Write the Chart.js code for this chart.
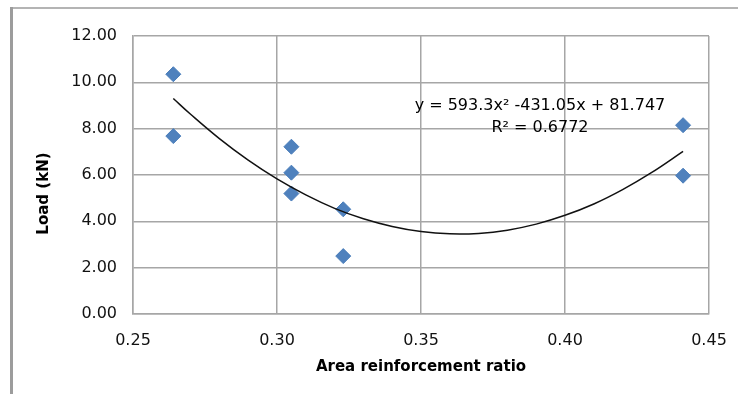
<!DOCTYPE html>
<html>
<head>
<meta charset="utf-8">
<script src="https://cdn.jsdelivr.net/npm/chart.js@4"></script>
<style>
  html, body { margin: 0; padding: 0; background: #fff; }
  #wrap { position: relative; width: 738px; height: 394px; }
</style>
</head>
<body>
<div id="wrap"><canvas id="c" width="738" height="394"></canvas></div>
<script>
// Measured points (area reinforcement ratio, load kN)
const ratioX = [0.264, 0.264, 0.305, 0.305, 0.305, 0.323, 0.323, 0.441, 0.441];
const loadY  = [10.35, 7.68, 7.22, 6.10, 5.20, 4.52, 2.50, 8.15, 5.97];
// Polynomial trendline
const trendX = [0.264, 0.27, 0.28, 0.29, 0.30, 0.31, 0.32, 0.33, 0.34, 0.35, 0.36, 0.37, 0.38, 0.39, 0.40, 0.41, 0.42, 0.43, 0.441];
const trendY = [9.30, 8.62, 7.57, 6.64, 5.83, 5.14, 4.56, 4.11, 3.78, 3.56, 3.46, 3.48, 3.62, 3.88, 4.26, 4.75, 5.37, 6.10, 7.02];
// Axis ranges / labels
const xTicks = [0.25, 0.30, 0.35, 0.40, 0.45];
const yTicks = [0, 2, 4, 6, 8, 10, 12];
const xTitle = 'Area reinforcement ratio';
const yTitle = 'Load (kN)';
const eqLines = ['y = 593.3x² -431.05x + 81.747', 'R² = 0.6772'];

const GRID = '#a6a6a6';
const eqAnchor = { x: 0.3913, y1: 8.79, y2: 7.87 };

const decor = {
  id: 'decor',
  beforeDraw(chart) {
    const ctx = chart.ctx;
    ctx.save();
    ctx.fillStyle = '#fff';
    ctx.fillRect(0, 0, chart.width, chart.height);
    // outer frame (left and top visible)
    ctx.strokeStyle = '#b4b4b4';
    ctx.lineWidth = 2;
    ctx.beginPath(); ctx.moveTo(11, 8); ctx.lineTo(738, 8); ctx.stroke();
    ctx.strokeStyle = '#9c9c9c';
    ctx.lineWidth = 3;
    ctx.beginPath(); ctx.moveTo(11.5, 7); ctx.lineTo(11.5, 394); ctx.stroke();
    ctx.restore();
  },
  afterDraw(chart) {
    const ctx = chart.ctx;
    const a = chart.chartArea;
    const xs = chart.scales.x, ys = chart.scales.y;
    ctx.save();
    ctx.fillStyle = '#000';
    // axis titles
    ctx.font = 'bold 15px "DejaVu Sans"';
    ctx.textAlign = 'center';
    ctx.textBaseline = 'middle';
    ctx.fillText(xTitle, (a.left + a.right) / 2, 367);
    ctx.save();
    ctx.translate(44, ys.getPixelForValue(5.2));
    ctx.rotate(-Math.PI / 2);
    ctx.fillText(yTitle, 0, 0);
    ctx.restore();
    // trendline equation
    ctx.font = '16px "DejaVu Sans"';
    ctx.textBaseline = 'alphabetic';
    const cx = xs.getPixelForValue(eqAnchor.x);
    ctx.fillText(eqLines[0], cx, ys.getPixelForValue(eqAnchor.y1));
    ctx.fillText(eqLines[1], cx, ys.getPixelForValue(eqAnchor.y2));
    ctx.restore();
  }
};

new Chart(document.getElementById('c'), {
  type: 'scatter',
  data: {
    datasets: [
      {
        label: 'Load',
        data: ratioX.map((x, i) => ({ x, y: loadY[i] })),
        pointStyle: 'rectRot',
        pointRadius: 7.5,
        pointHoverRadius: 7.5,
        backgroundColor: '#4f81bd',
        borderColor: '#4a7ebb',
        borderWidth: 1,
        order: 2
      },
      {
        label: 'Trend',
        data: trendX.map((x, i) => ({ x, y: trendY[i] })),
        showLine: true,
        tension: 0.4,
        pointRadius: 0,
        borderColor: '#111',
        borderWidth: 1.5,
        order: 1
      }
    ]
  },
  options: {
    responsive: false,
    animation: false,
    events: [],
    layout: { padding: { left: 0, top: 36, right: 29, bottom: 0 } },
    plugins: { legend: { display: false }, tooltip: { enabled: false } },
    scales: {
      x: {
        type: 'linear',
        min: xTicks[0],
        max: xTicks[xTicks.length - 1],
        afterBuildTicks(scale) { scale.ticks = xTicks.map(v => ({ value: v })); },
        afterFit(scale) { scale.height = 80; scale.paddingLeft = 0; scale.paddingRight = 0; },
        ticks: {
          padding: 17,
          color: '#111',
          font: { family: '"DejaVu Sans"', size: 16 },
          maxRotation: 0,
          callback: v => Number(v).toFixed(2)
        },
        grid: { color: GRID, lineWidth: 1.5, drawTicks: false },
        border: { color: GRID, width: 1.5 }
      },
      y: {
        type: 'linear',
        min: yTicks[0],
        max: yTicks[yTicks.length - 1],
        afterBuildTicks(scale) { scale.ticks = yTicks.map(v => ({ value: v })); },
        afterFit(scale) { scale.width = 133; scale.paddingTop = 0; scale.paddingBottom = 0; },
        ticks: {
          padding: 16,
          color: '#111',
          font: { family: '"DejaVu Sans"', size: 16 },
          callback: v => Number(v).toFixed(2)
        },
        grid: { color: GRID, lineWidth: 1.5, drawTicks: false },
        border: { color: GRID, width: 1.5 }
      }
    }
  },
  plugins: [decor]
});
</script>
</body>
</html>
